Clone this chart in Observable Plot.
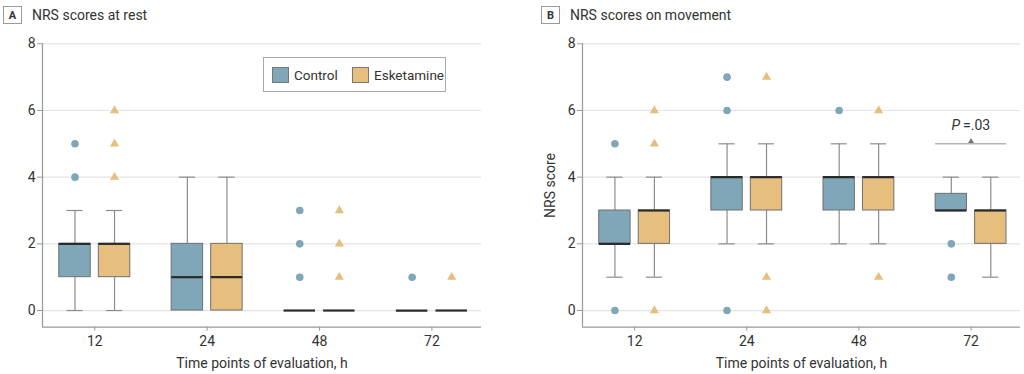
<!DOCTYPE html>
<html><head><meta charset="utf-8">
<script src="https://cdn.jsdelivr.net/npm/d3@7"></script>
<script src="https://cdn.jsdelivr.net/npm/@observablehq/plot@0.6"></script>
<style>
body{margin:0;background:#fff;font-family:Roboto,sans-serif;color:#333}
#wrap{position:relative;width:1024px;height:374px;overflow:hidden;background:#fff}
.hdr{position:absolute;top:6px;height:18px;display:flex;align-items:center;font-size:14px;color:#333;white-space:nowrap}
.badge{box-sizing:border-box;width:19px;height:18px;border:1px solid #9a9a9a;font-weight:bold;font-size:11px;display:flex;align-items:center;justify-content:center;margin-right:10px}
#legend{position:absolute;left:263px;top:57px;width:183px;height:35px;box-sizing:border-box;border:1px solid #aaa;background:#fff;font-size:13.5px}
#legend .sw{position:absolute;top:9px;width:17px;height:16px;box-sizing:border-box;border:1px solid #777}
#legend .lb{position:absolute;top:8px;line-height:18px}
svg.plot{position:absolute;top:0}
</style></head>
<body>
<div id="wrap">
  <div class="hdr" style="left:3px"><div class="badge">A</div><span>NRS scores at rest</span></div>
  <div class="hdr" style="left:541px"><div class="badge">B</div><span>NRS scores on movement</span></div>
</div>
<script>
const times = ["12", "24", "48", "72"];
const groups = ["Control", "Esketamine"];
const colors = ["#7fa7b8", "#e6be7e"];
const yTicks = [0, 2, 4, 6, 8];
// five-number summaries per time point: [lower whisker, Q1, median, Q3, upper whisker]
const restControl = [[0, 1, 2, 2, 3], [0, 0, 1, 2, 4], [0, 0, 0, 0, 0], [0, 0, 0, 0, 0]];
const restEsketamine = [[0, 1, 2, 2, 3], [0, 0, 1, 2, 4], [0, 0, 0, 0, 0], [0, 0, 0, 0, 0]];
const restControlOutliers = [[4, 5], [], [1, 2, 3], [1]];
const restEsketamineOutliers = [[4, 5, 6], [], [1, 2, 3], [1]];
const moveControl = [[1, 2, 2, 3, 4], [2, 3, 4, 4, 5], [2, 3, 4, 4, 5], [3, 3, 3, 3.5, 4]];
const moveEsketamine = [[1, 2, 3, 3, 4], [2, 3, 4, 4, 5], [2, 3, 4, 4, 5], [1, 2, 3, 3, 4]];
const moveControlOutliers = [[0, 5], [0, 6, 7], [6], [1, 2]];
const moveEsketamineOutliers = [[0, 5, 6], [0, 1, 7], [1, 6], []];
// significance annotation (panel B)
const pTime = "72";
const pLevel = 5;
const pText = "=.03";

const OFF = 0.176, HALF = 0.14, CAP = 0.072;
const XD = [-0.465, 3.441];

function panel(summaries, outliers, opts) {
  const rows = times.flatMap((t, i) => groups.map((g, gi) => {
    const s = summaries[gi][i];
    return {time: t, group: g, pos: i + (gi ? OFF : -OFF), lo: s[0], q1: s[1], med: s[2], q3: s[3], hi: s[4]};
  }));
  const outs = times.flatMap((t, i) => groups.flatMap((g, gi) =>
    outliers[gi][i].map(v => ({time: t, group: g, pos: i + (gi ? OFF : -OFF), v}))));
  const marks = [
    Plot.ruleY(yTicks, {stroke: "#e3e3e3", strokeWidth: 1.2}),
    Plot.ruleX(rows, {x: "pos", y1: "lo", y2: "q1", stroke: "#8c8c8c", strokeWidth: 1.2}),
    Plot.ruleX(rows, {x: "pos", y1: "q3", y2: "hi", stroke: "#8c8c8c", strokeWidth: 1.2}),
    Plot.ruleY(rows.filter(d => d.lo < d.q1), {y: "lo", x1: d => d.pos - CAP, x2: d => d.pos + CAP, stroke: "#8c8c8c", strokeWidth: 1.2}),
    Plot.ruleY(rows.filter(d => d.hi > d.q3), {y: "hi", x1: d => d.pos - CAP, x2: d => d.pos + CAP, stroke: "#8c8c8c", strokeWidth: 1.2}),
    Plot.rect(rows, {x1: d => d.pos - HALF, x2: d => d.pos + HALF, y1: "q1", y2: "q3", fill: "group", stroke: "#707070", strokeWidth: 1}),
    Plot.ruleY(rows, {y: "med", x1: d => d.pos - HALF, x2: d => d.pos + HALF, stroke: "#2b2b2b", strokeWidth: 2.2}),
    Plot.dot(outs.filter(d => d.group === groups[0]), {x: "pos", y: "v", r: 3.8, fill: colors[0], symbol: "circle"}),
    Plot.dot(outs.filter(d => d.group === groups[1]), {x: "pos", y: "v", r: 3.4, fill: colors[1], symbol: "triangle"}),
    Plot.ruleX([XD[0]], {y1: -0.5, y2: 8, stroke: "#999", strokeWidth: 1.2}),
    Plot.ruleY([-0.5], {stroke: "#999", strokeWidth: 1.2}),
    Plot.axisY({ticks: yTicks, tickSize: 5, tickPadding: 2, stroke: "#999", fill: "#333", fontSize: 14,
      label: opts.yLabel, labelAnchor: "center", labelArrow: false, labelOffset: 37}),
    Plot.axisX({ticks: [0, 1, 2, 3], tickFormat: i => times[i], tickSize: 4, tickPadding: 5, stroke: "#999", fill: "#333", fontSize: 14,
      label: "Time points of evaluation, h", labelAnchor: "center", labelArrow: false, labelOffset: 41}),
    ...(opts.extra || [])
  ];
  const svg = Plot.plot({
    width: opts.width, height: 374,
    marginLeft: 42, marginRight: opts.marginRight, marginTop: 43.3, marginBottom: 47.3,
    x: {type: "linear", domain: XD, axis: null},
    y: {domain: [-0.5, 8], axis: null},
    color: {domain: groups, range: colors},
    style: {fontFamily: "Roboto, sans-serif", fontSize: "14px", color: "#333", background: "transparent", overflow: "visible"},
    marks
  });
  svg.classList.add("plot");
  svg.style.left = opts.left + "px";
  return svg;
}

const wrap = document.getElementById("wrap");
const pi = times.indexOf(pTime);
const extraB = [
  Plot.ruleY([pLevel], {x1: pi - OFF - HALF, x2: pi + OFF + HALF, stroke: "#b5b5b5", strokeWidth: 1.5}),
  Plot.dot([pLevel], {x: pi, y: d => d, symbol: "triangle", r: 2.2, fill: "#777", dy: -2.5}),
  Plot.text(["P"], {x: pi, y: pLevel + 0.55, text: d => d, textAnchor: "end", dx: -11, fontStyle: "italic", fill: "#333", fontSize: 14}),
  Plot.text([pText], {x: pi, y: pLevel + 0.55, text: d => d, textAnchor: "start", dx: -8, fill: "#333", fontSize: 14})
];
wrap.appendChild(panel([restControl, restEsketamine], [restControlOutliers, restEsketamineOutliers],
  {width: 500, marginRight: 19, left: 0, yLabel: null}));
wrap.appendChild(panel([moveControl, moveEsketamine], [moveControlOutliers, moveEsketamineOutliers],
  {width: 484, marginRight: 4, left: 540, yLabel: "NRS score", extra: extraB}));

// legend (HTML, positioned over panel A)
const lg = document.createElement("div");
lg.id = "legend";
lg.innerHTML =
  `<div class="sw" style="left:8px;background:${colors[0]}"></div><div class="lb" style="left:30px">${groups[0]}</div>` +
  `<div class="sw" style="left:88px;background:${colors[1]}"></div><div class="lb" style="left:110px">${groups[1]}</div>`;
wrap.appendChild(lg);
</script>
</body></html>
